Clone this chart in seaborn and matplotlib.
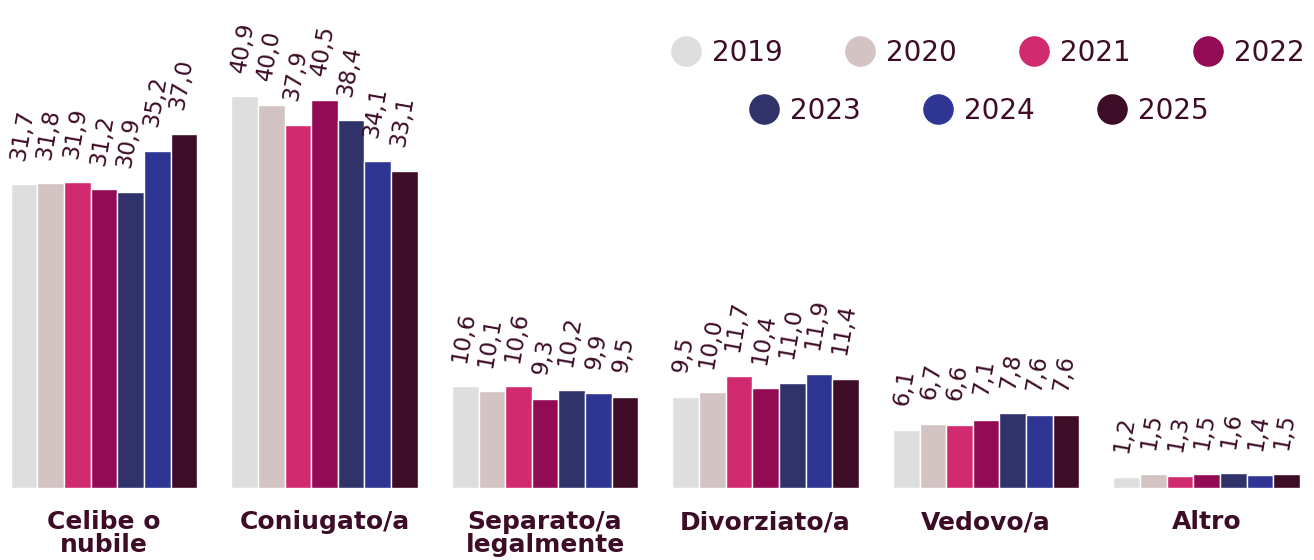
import matplotlib
matplotlib.use("Agg")
import matplotlib.pyplot as plt
import seaborn as sns
import pandas as pd
from matplotlib.lines import Line2D

categories = ["Celibe o\nnubile", "Coniugato/a", "Separato/a\nlegalmente",
              "Divorziato/a", "Vedovo/a", "Altro"]
years = ["2019", "2020", "2021", "2022", "2023", "2024", "2025"]
v2019 = [31.7, 40.9, 10.6, 9.5, 6.1, 1.2]
v2020 = [31.8, 40.0, 10.1, 10.0, 6.7, 1.5]
v2021 = [31.9, 37.9, 10.6, 11.7, 6.6, 1.3]
v2022 = [31.2, 40.5, 9.3, 10.4, 7.1, 1.5]
v2023 = [30.9, 38.4, 10.2, 11.0, 7.8, 1.6]
v2024 = [35.2, 34.1, 9.9, 11.9, 7.6, 1.4]
v2025 = [37.0, 33.1, 9.5, 11.4, 7.6, 1.5]
colors = ["#dedede", "#d3c3c3", "#d12a6e", "#930a55", "#30336a", "#2e3593", "#3d0c27"]
text_color = "#3d0c27"

series = [v2019, v2020, v2021, v2022, v2023, v2024, v2025]
rows = []
for y, vals in zip(years, series):
    for c, v in zip(categories, vals):
        rows.append({"categoria": c, "anno": y, "valore": v})
df = pd.DataFrame(rows)

sns.set_theme(style="white")
plt.rcParams["font.family"] = ["DejaVu Sans"]

fig = plt.figure(figsize=(13.14, 5.6), dpi=100)
ax = fig.add_axes([0.0, 72 / 560, 1.0, 1 - 72 / 560])

sns.barplot(data=df, x="categoria", y="valore", hue="anno", order=categories,
            hue_order=years, palette=colors, saturation=1, width=0.845,
            edgecolor="white", linewidth=1, ax=ax, legend=False)

ax.set_xlim(-0.4717, 5.487)
ax.set_ylim(0, 488 / 9.58)

for cont in ax.containers:
    for bar in cont:
        h = bar.get_height()
        xc = bar.get_x() + bar.get_width() / 2
        lab = f"{h:.1f}".replace(".", ",")
        ax.annotate(lab, (xc, h), xytext=(-1.5, 16), textcoords="offset points",
                    ha="center", va="bottom", rotation=80, fontsize=16.5,
                    color=text_color, annotation_clip=False)

ax.set_xlabel("")
ax.set_ylabel("")
ax.set_yticks([])
ax.tick_params(axis="x", length=0, pad=16)
for t in ax.get_xticklabels():
    t.set_fontweight("bold")
    t.set_fontsize(18)
    t.set_color(text_color)
    t.set_linespacing(0.95)
    t.set_va("top")
for s in ax.spines.values():
    s.set_visible(False)

def handles(cols):
    return [Line2D([], [], marker="o", linestyle="", markersize=21,
                   markerfacecolor=c, markeredgecolor=c) for c in cols]

leg1 = fig.legend(handles(colors[:4]), years[:4], loc="center left",
                  bbox_to_anchor=(672 / 1314, 1 - 53 / 560), ncol=4,
                  frameon=False, fontsize=20, handlelength=1.0,
                  handletextpad=0.45, columnspacing=2.27, borderpad=0,
                  borderaxespad=0, labelcolor=text_color)
leg2 = fig.legend(handles(colors[4:]), years[4:], loc="center left",
                  bbox_to_anchor=(750 / 1314, 1 - 111 / 560), ncol=3,
                  frameon=False, fontsize=20, handlelength=1.0,
                  handletextpad=0.45, columnspacing=2.27, borderpad=0,
                  borderaxespad=0, labelcolor=text_color)

fig.savefig("out.png", dpi=100, facecolor="white")
